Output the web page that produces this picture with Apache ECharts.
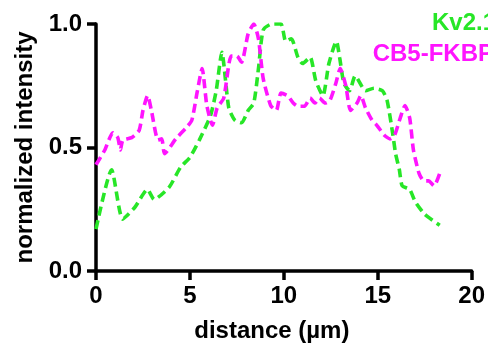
<!DOCTYPE html>
<html>
<head>
<meta charset="utf-8">
<script src="https://cdn.jsdelivr.net/npm/echarts@6/dist/echarts.min.js"></script>
<style>
html,body{margin:0;padding:0;background:#fff;}
#chart{width:488px;height:348px;}
</style>
</head>
<body>
<div id="chart"></div>
<script>
const seriesNames = ['Kv2.1', 'CB5-FKBP'];
const kvDistance = [0, 0.83, 1.42, 2.06, 2.74, 3.1, 3.9, 4.5, 5.0, 5.5, 6.1, 6.4, 6.7, 7.07, 7.4, 7.75, 8.1, 8.4, 8.65, 8.9, 9.35, 9.85, 10.1, 10.4, 10.75, 11.0, 11.4, 11.7, 12.08, 12.4, 12.8, 12.97, 13.2, 13.5, 13.8, 14.35, 14.8, 15.25, 15.5, 15.8, 15.95, 16.15, 16.3, 16.7, 17.0, 17.5, 18.3];
const kvIntensity = [0.17, 0.41, 0.21, 0.257, 0.33, 0.29, 0.34, 0.42, 0.46, 0.53, 0.63, 0.73, 0.885, 0.66, 0.61, 0.60, 0.65, 0.68, 0.82, 0.975, 1.0, 1.0, 0.93, 0.94, 0.865, 0.84, 0.866, 0.77, 0.71, 0.84, 0.93, 0.865, 0.76, 0.73, 0.79, 0.73, 0.74, 0.73, 0.69, 0.555, 0.475, 0.41, 0.345, 0.33, 0.28, 0.23, 0.185];
const cbDistance = [0, 0.47, 0.9, 1.16, 1.3, 1.43, 1.9, 2.3, 2.5, 2.75, 2.95, 3.3, 3.5, 3.65, 4.25, 4.8, 5.1, 5.4, 5.65, 5.9, 6.2, 6.45, 6.8, 7.2, 7.5, 7.75, 8.1, 8.4, 8.65, 8.9, 9.3, 9.6, 9.85, 10.2, 10.5, 10.75, 11.1, 11.4, 11.65, 11.9, 12.2, 12.45, 12.77, 13.0, 13.3, 13.55, 13.9, 14.1, 14.35, 14.7, 14.95, 15.35, 15.65, 15.9, 16.2, 16.45, 16.7, 16.9, 17.2, 17.45, 17.7, 18.0, 18.3];
const cbIntensity = [0.43, 0.49, 0.56, 0.54, 0.49, 0.53, 0.54, 0.57, 0.65, 0.71, 0.65, 0.53, 0.535, 0.475, 0.535, 0.58, 0.61, 0.73, 0.82, 0.67, 0.59, 0.66, 0.70, 0.87, 0.87, 0.845, 0.96, 1.0, 0.94, 0.78, 0.67, 0.65, 0.72, 0.71, 0.68, 0.667, 0.667, 0.70, 0.68, 0.70, 0.68, 0.69, 0.76, 0.82, 0.75, 0.65, 0.68, 0.71, 0.66, 0.61, 0.59, 0.55, 0.535, 0.55, 0.62, 0.67, 0.62, 0.49, 0.395, 0.365, 0.365, 0.345, 0.395];
const xTicks = [0, 5, 10, 15, 20];
const yTicks = [0.0, 0.5, 1.0];
const xTitle = 'distance (µm)';
const yTitle = 'normalized intensity';

const colors = ['#27E627', '#FF14FF'];
const font = 'Liberation Sans, Arial, Helvetica, sans-serif';

function pairs(xs, ys) { return xs.map((x, i) => [x, ys[i]]); }

const chart = echarts.init(document.getElementById('chart'), null, {renderer: 'canvas'});
const axisCommon = {
  axisLine: {show: true, lineStyle: {color: '#000', width: 3.5}},
  axisTick: {show: true, length: 9, lineStyle: {color: '#000', width: 3.5}},
  splitLine: {show: false},
  axisLabel: {color: '#000', fontSize: 24, fontWeight: 'bold', fontFamily: font}
};
chart.setOption({
  animation: false,
  backgroundColor: '#fff',
  grid: {left: 96, right: 13, top: 24, bottom: 71, containLabel: false},
  xAxis: Object.assign({}, axisCommon, {
    type: 'value', min: xTicks[0], max: xTicks[xTicks.length - 1], interval: xTicks[1] - xTicks[0],
    name: xTitle, nameLocation: 'middle', nameGap: 48,
    nameTextStyle: {color: '#000', fontSize: 24, fontWeight: 'bold', fontFamily: font, padding: [0, 24, 0, 0]},
    axisLabel: Object.assign({}, axisCommon.axisLabel, {margin: 13})
  }),
  yAxis: Object.assign({}, axisCommon, {
    type: 'value', min: yTicks[0], max: yTicks[yTicks.length - 1], interval: yTicks[1] - yTicks[0],
    name: yTitle, nameLocation: 'middle', nameGap: 47,
    nameTextStyle: {color: '#000', fontSize: 24, fontWeight: 'bold', fontFamily: font},
    axisLabel: Object.assign({}, axisCommon.axisLabel, {margin: 14, formatter: v => v.toFixed(1)})
  }),
  graphic: [
    {type: 'text', right: -8, top: 11, style: {text: seriesNames[0], fill: colors[0], font: 'bold 24px ' + font, textAlign: 'right'}},
    {type: 'text', right: -6, top: 42, style: {text: seriesNames[1], fill: colors[1], font: 'bold 24px ' + font, textAlign: 'right'}}
  ],
  series: [
    {name: seriesNames[0], type: 'line', data: pairs(kvDistance, kvIntensity), showSymbol: false, smooth: 0.2,
     lineStyle: {color: colors[0], width: 3.6, type: [9, 5]}, z: 2},
    {name: seriesNames[1], type: 'line', data: pairs(cbDistance, cbIntensity), showSymbol: false, smooth: 0.2,
     lineStyle: {color: colors[1], width: 3.6, type: [9, 5]}, z: 3}
  ]
});
</script>
</body>
</html>
